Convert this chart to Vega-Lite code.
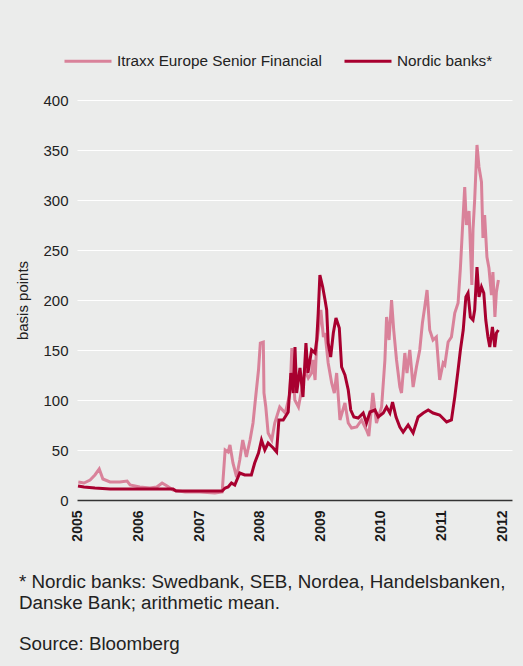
{
  "$schema": "https://vega.github.io/schema/vega-lite/v6.json",
  "width": 435,
  "height": 400,
  "autosize": "none",
  "padding": {"left": 77, "top": 100, "right": 11, "bottom": 166},
  "background": "#ebeceb",
  "config": {
    "view": {"stroke": null},
    "font": "Liberation Sans"
  },
  "title": {
    "text": ["* Nordic banks: Swedbank, SEB, Nordea, Handelsbanken,", "Danske Bank; arithmetic mean."],
    "subtitle": "Source: Bloomberg",
    "orient": "bottom",
    "anchor": "start",
    "frame": "bounds",
    "fontSize": 18.8,
    "fontWeight": "normal",
    "color": "#222222",
    "lineHeight": 20.5,
    "subtitleFontSize": 18.8,
    "subtitleColor": "#222222",
    "subtitleLineHeight": 20.5,
    "subtitlePadding": 23,
    "offset": 32,
    "dx": 3
  },
  "data": {
    "values": [
      {"date": "2005-01-03", "series": "Itraxx Europe Senior Financial", "bp": 18},
      {"date": "2005-02-06", "series": "Itraxx Europe Senior Financial", "bp": 17},
      {"date": "2005-03-15", "series": "Itraxx Europe Senior Financial", "bp": 20},
      {"date": "2005-04-13", "series": "Itraxx Europe Senior Financial", "bp": 25},
      {"date": "2005-05-09", "series": "Itraxx Europe Senior Financial", "bp": 31},
      {"date": "2005-05-31", "series": "Itraxx Europe Senior Financial", "bp": 21},
      {"date": "2005-07-13", "series": "Itraxx Europe Senior Financial", "bp": 18},
      {"date": "2005-09-10", "series": "Itraxx Europe Senior Financial", "bp": 18},
      {"date": "2005-10-24", "series": "Itraxx Europe Senior Financial", "bp": 19},
      {"date": "2005-11-11", "series": "Itraxx Europe Senior Financial", "bp": 15},
      {"date": "2006-01-08", "series": "Itraxx Europe Senior Financial", "bp": 13},
      {"date": "2006-03-11", "series": "Itraxx Europe Senior Financial", "bp": 12},
      {"date": "2006-04-21", "series": "Itraxx Europe Senior Financial", "bp": 13},
      {"date": "2006-05-23", "series": "Itraxx Europe Senior Financial", "bp": 17},
      {"date": "2006-06-22", "series": "Itraxx Europe Senior Financial", "bp": 14},
      {"date": "2006-07-28", "series": "Itraxx Europe Senior Financial", "bp": 10},
      {"date": "2006-10-09", "series": "Itraxx Europe Senior Financial", "bp": 8},
      {"date": "2007-01-05", "series": "Itraxx Europe Senior Financial", "bp": 8},
      {"date": "2007-04-06", "series": "Itraxx Europe Senior Financial", "bp": 7},
      {"date": "2007-05-20", "series": "Itraxx Europe Senior Financial", "bp": 8},
      {"date": "2007-06-07", "series": "Itraxx Europe Senior Financial", "bp": 50},
      {"date": "2007-06-25", "series": "Itraxx Europe Senior Financial", "bp": 48},
      {"date": "2007-07-06", "series": "Itraxx Europe Senior Financial", "bp": 55},
      {"date": "2007-07-24", "series": "Itraxx Europe Senior Financial", "bp": 37},
      {"date": "2007-08-15", "series": "Itraxx Europe Senior Financial", "bp": 23},
      {"date": "2007-09-03", "series": "Itraxx Europe Senior Financial", "bp": 40},
      {"date": "2007-09-21", "series": "Itraxx Europe Senior Financial", "bp": 60},
      {"date": "2007-10-13", "series": "Itraxx Europe Senior Financial", "bp": 43},
      {"date": "2007-11-04", "series": "Itraxx Europe Senior Financial", "bp": 60},
      {"date": "2007-11-22", "series": "Itraxx Europe Senior Financial", "bp": 77},
      {"date": "2007-12-06", "series": "Itraxx Europe Senior Financial", "bp": 100},
      {"date": "2007-12-25", "series": "Itraxx Europe Senior Financial", "bp": 130},
      {"date": "2008-01-05", "series": "Itraxx Europe Senior Financial", "bp": 157},
      {"date": "2008-01-23", "series": "Itraxx Europe Senior Financial", "bp": 158},
      {"date": "2008-01-27", "series": "Itraxx Europe Senior Financial", "bp": 107},
      {"date": "2008-02-07", "series": "Itraxx Europe Senior Financial", "bp": 93},
      {"date": "2008-02-21", "series": "Itraxx Europe Senior Financial", "bp": 67},
      {"date": "2008-03-14", "series": "Itraxx Europe Senior Financial", "bp": 60},
      {"date": "2008-04-01", "series": "Itraxx Europe Senior Financial", "bp": 77},
      {"date": "2008-05-01", "series": "Itraxx Europe Senior Financial", "bp": 93},
      {"date": "2008-06-03", "series": "Itraxx Europe Senior Financial", "bp": 87},
      {"date": "2008-07-02", "series": "Itraxx Europe Senior Financial", "bp": 107},
      {"date": "2008-07-13", "series": "Itraxx Europe Senior Financial", "bp": 152},
      {"date": "2008-07-31", "series": "Itraxx Europe Senior Financial", "bp": 100},
      {"date": "2008-08-22", "series": "Itraxx Europe Senior Financial", "bp": 93},
      {"date": "2008-09-10", "series": "Itraxx Europe Senior Financial", "bp": 110},
      {"date": "2008-09-30", "series": "Itraxx Europe Senior Financial", "bp": 130},
      {"date": "2008-10-20", "series": "Itraxx Europe Senior Financial", "bp": 122},
      {"date": "2008-11-09", "series": "Itraxx Europe Senior Financial", "bp": 127},
      {"date": "2008-11-17", "series": "Itraxx Europe Senior Financial", "bp": 140},
      {"date": "2008-11-30", "series": "Itraxx Europe Senior Financial", "bp": 120},
      {"date": "2008-12-10", "series": "Itraxx Europe Senior Financial", "bp": 157},
      {"date": "2009-01-04", "series": "Itraxx Europe Senior Financial", "bp": 190},
      {"date": "2009-01-19", "series": "Itraxx Europe Senior Financial", "bp": 163},
      {"date": "2009-01-29", "series": "Itraxx Europe Senior Financial", "bp": 167},
      {"date": "2009-02-17", "series": "Itraxx Europe Senior Financial", "bp": 137},
      {"date": "2009-03-10", "series": "Itraxx Europe Senior Financial", "bp": 117},
      {"date": "2009-03-26", "series": "Itraxx Europe Senior Financial", "bp": 107},
      {"date": "2009-04-09", "series": "Itraxx Europe Senior Financial", "bp": 127},
      {"date": "2009-04-29", "series": "Itraxx Europe Senior Financial", "bp": 80},
      {"date": "2009-05-29", "series": "Itraxx Europe Senior Financial", "bp": 97},
      {"date": "2009-06-18", "series": "Itraxx Europe Senior Financial", "bp": 77},
      {"date": "2009-07-08", "series": "Itraxx Europe Senior Financial", "bp": 72},
      {"date": "2009-08-08", "series": "Itraxx Europe Senior Financial", "bp": 73},
      {"date": "2009-09-06", "series": "Itraxx Europe Senior Financial", "bp": 80},
      {"date": "2009-10-06", "series": "Itraxx Europe Senior Financial", "bp": 70},
      {"date": "2009-10-20", "series": "Itraxx Europe Senior Financial", "bp": 64},
      {"date": "2009-11-13", "series": "Itraxx Europe Senior Financial", "bp": 107},
      {"date": "2009-12-05", "series": "Itraxx Europe Senior Financial", "bp": 77},
      {"date": "2010-01-05", "series": "Itraxx Europe Senior Financial", "bp": 93},
      {"date": "2010-01-25", "series": "Itraxx Europe Senior Financial", "bp": 140},
      {"date": "2010-02-04", "series": "Itraxx Europe Senior Financial", "bp": 183},
      {"date": "2010-02-19", "series": "Itraxx Europe Senior Financial", "bp": 160},
      {"date": "2010-03-06", "series": "Itraxx Europe Senior Financial", "bp": 200},
      {"date": "2010-03-19", "series": "Itraxx Europe Senior Financial", "bp": 170},
      {"date": "2010-04-05", "series": "Itraxx Europe Senior Financial", "bp": 140},
      {"date": "2010-04-25", "series": "Itraxx Europe Senior Financial", "bp": 113},
      {"date": "2010-05-05", "series": "Itraxx Europe Senior Financial", "bp": 107},
      {"date": "2010-05-25", "series": "Itraxx Europe Senior Financial", "bp": 147},
      {"date": "2010-06-07", "series": "Itraxx Europe Senior Financial", "bp": 127},
      {"date": "2010-06-24", "series": "Itraxx Europe Senior Financial", "bp": 150},
      {"date": "2010-07-14", "series": "Itraxx Europe Senior Financial", "bp": 113},
      {"date": "2010-08-03", "series": "Itraxx Europe Senior Financial", "bp": 133},
      {"date": "2010-08-23", "series": "Itraxx Europe Senior Financial", "bp": 150},
      {"date": "2010-09-08", "series": "Itraxx Europe Senior Financial", "bp": 177},
      {"date": "2010-09-22", "series": "Itraxx Europe Senior Financial", "bp": 193},
      {"date": "2010-10-06", "series": "Itraxx Europe Senior Financial", "bp": 210},
      {"date": "2010-10-22", "series": "Itraxx Europe Senior Financial", "bp": 170},
      {"date": "2010-11-11", "series": "Itraxx Europe Senior Financial", "bp": 160},
      {"date": "2010-12-01", "series": "Itraxx Europe Senior Financial", "bp": 163},
      {"date": "2010-12-21", "series": "Itraxx Europe Senior Financial", "bp": 120},
      {"date": "2011-01-11", "series": "Itraxx Europe Senior Financial", "bp": 137},
      {"date": "2011-01-21", "series": "Itraxx Europe Senior Financial", "bp": 135},
      {"date": "2011-02-10", "series": "Itraxx Europe Senior Financial", "bp": 158},
      {"date": "2011-03-02", "series": "Itraxx Europe Senior Financial", "bp": 163},
      {"date": "2011-03-22", "series": "Itraxx Europe Senior Financial", "bp": 187},
      {"date": "2011-04-11", "series": "Itraxx Europe Senior Financial", "bp": 197},
      {"date": "2011-04-25", "series": "Itraxx Europe Senior Financial", "bp": 232},
      {"date": "2011-05-07", "series": "Itraxx Europe Senior Financial", "bp": 270},
      {"date": "2011-05-21", "series": "Itraxx Europe Senior Financial", "bp": 313},
      {"date": "2011-05-31", "series": "Itraxx Europe Senior Financial", "bp": 275},
      {"date": "2011-06-16", "series": "Itraxx Europe Senior Financial", "bp": 289},
      {"date": "2011-07-03", "series": "Itraxx Europe Senior Financial", "bp": 215},
      {"date": "2011-07-10", "series": "Itraxx Europe Senior Financial", "bp": 270},
      {"date": "2011-07-20", "series": "Itraxx Europe Senior Financial", "bp": 300},
      {"date": "2011-08-03", "series": "Itraxx Europe Senior Financial", "bp": 355},
      {"date": "2011-08-15", "series": "Itraxx Europe Senior Financial", "bp": 333},
      {"date": "2011-08-30", "series": "Itraxx Europe Senior Financial", "bp": 318},
      {"date": "2011-09-08", "series": "Itraxx Europe Senior Financial", "bp": 262},
      {"date": "2011-09-18", "series": "Itraxx Europe Senior Financial", "bp": 285},
      {"date": "2011-10-02", "series": "Itraxx Europe Senior Financial", "bp": 243},
      {"date": "2011-10-14", "series": "Itraxx Europe Senior Financial", "bp": 232},
      {"date": "2011-10-29", "series": "Itraxx Europe Senior Financial", "bp": 205},
      {"date": "2011-11-07", "series": "Itraxx Europe Senior Financial", "bp": 228},
      {"date": "2011-11-19", "series": "Itraxx Europe Senior Financial", "bp": 183},
      {"date": "2011-11-28", "series": "Itraxx Europe Senior Financial", "bp": 208},
      {"date": "2011-12-10", "series": "Itraxx Europe Senior Financial", "bp": 220},
      {"date": "2005-01-01", "series": "Nordic banks*", "bp": 14},
      {"date": "2005-02-06", "series": "Nordic banks*", "bp": 13},
      {"date": "2005-04-13", "series": "Nordic banks*", "bp": 12},
      {"date": "2005-07-13", "series": "Nordic banks*", "bp": 11},
      {"date": "2006-01-08", "series": "Nordic banks*", "bp": 11},
      {"date": "2006-07-28", "series": "Nordic banks*", "bp": 11},
      {"date": "2006-08-15", "series": "Nordic banks*", "bp": 9},
      {"date": "2007-05-20", "series": "Nordic banks*", "bp": 9},
      {"date": "2007-06-07", "series": "Nordic banks*", "bp": 12},
      {"date": "2007-06-25", "series": "Nordic banks*", "bp": 13},
      {"date": "2007-07-15", "series": "Nordic banks*", "bp": 17},
      {"date": "2007-08-04", "series": "Nordic banks*", "bp": 15},
      {"date": "2007-09-03", "series": "Nordic banks*", "bp": 27},
      {"date": "2007-10-03", "series": "Nordic banks*", "bp": 25},
      {"date": "2007-11-12", "series": "Nordic banks*", "bp": 25},
      {"date": "2007-12-02", "series": "Nordic banks*", "bp": 37},
      {"date": "2007-12-25", "series": "Nordic banks*", "bp": 47},
      {"date": "2008-01-12", "series": "Nordic banks*", "bp": 60},
      {"date": "2008-02-01", "series": "Nordic banks*", "bp": 50},
      {"date": "2008-02-21", "series": "Nordic banks*", "bp": 57},
      {"date": "2008-03-23", "series": "Nordic banks*", "bp": 52},
      {"date": "2008-04-12", "series": "Nordic banks*", "bp": 48},
      {"date": "2008-04-26", "series": "Nordic banks*", "bp": 80},
      {"date": "2008-05-22", "series": "Nordic banks*", "bp": 80},
      {"date": "2008-06-21", "series": "Nordic banks*", "bp": 88},
      {"date": "2008-07-07", "series": "Nordic banks*", "bp": 127},
      {"date": "2008-07-21", "series": "Nordic banks*", "bp": 107},
      {"date": "2008-08-01", "series": "Nordic banks*", "bp": 153},
      {"date": "2008-08-11", "series": "Nordic banks*", "bp": 107},
      {"date": "2008-08-31", "series": "Nordic banks*", "bp": 132},
      {"date": "2008-09-18", "series": "Nordic banks*", "bp": 103},
      {"date": "2008-10-06", "series": "Nordic banks*", "bp": 157},
      {"date": "2008-10-18", "series": "Nordic banks*", "bp": 127},
      {"date": "2008-11-09", "series": "Nordic banks*", "bp": 150},
      {"date": "2008-11-30", "series": "Nordic banks*", "bp": 147},
      {"date": "2008-12-10", "series": "Nordic banks*", "bp": 160},
      {"date": "2008-12-19", "series": "Nordic banks*", "bp": 187},
      {"date": "2008-12-29", "series": "Nordic banks*", "bp": 225},
      {"date": "2009-01-15", "series": "Nordic banks*", "bp": 213},
      {"date": "2009-01-29", "series": "Nordic banks*", "bp": 200},
      {"date": "2009-02-08", "series": "Nordic banks*", "bp": 190},
      {"date": "2009-02-17", "series": "Nordic banks*", "bp": 157},
      {"date": "2009-03-04", "series": "Nordic banks*", "bp": 143},
      {"date": "2009-03-20", "series": "Nordic banks*", "bp": 167},
      {"date": "2009-04-05", "series": "Nordic banks*", "bp": 182},
      {"date": "2009-04-25", "series": "Nordic banks*", "bp": 172},
      {"date": "2009-05-09", "series": "Nordic banks*", "bp": 133},
      {"date": "2009-05-29", "series": "Nordic banks*", "bp": 125},
      {"date": "2009-06-18", "series": "Nordic banks*", "bp": 110},
      {"date": "2009-07-03", "series": "Nordic banks*", "bp": 90},
      {"date": "2009-07-22", "series": "Nordic banks*", "bp": 83},
      {"date": "2009-08-17", "series": "Nordic banks*", "bp": 82},
      {"date": "2009-09-16", "series": "Nordic banks*", "bp": 87},
      {"date": "2009-10-06", "series": "Nordic banks*", "bp": 77},
      {"date": "2009-10-27", "series": "Nordic banks*", "bp": 88},
      {"date": "2009-11-26", "series": "Nordic banks*", "bp": 90},
      {"date": "2009-12-16", "series": "Nordic banks*", "bp": 83},
      {"date": "2010-01-15", "series": "Nordic banks*", "bp": 87},
      {"date": "2010-02-04", "series": "Nordic banks*", "bp": 93},
      {"date": "2010-02-24", "series": "Nordic banks*", "bp": 87},
      {"date": "2010-03-12", "series": "Nordic banks*", "bp": 98},
      {"date": "2010-04-02", "series": "Nordic banks*", "bp": 83},
      {"date": "2010-04-25", "series": "Nordic banks*", "bp": 73},
      {"date": "2010-05-15", "series": "Nordic banks*", "bp": 68},
      {"date": "2010-06-14", "series": "Nordic banks*", "bp": 75},
      {"date": "2010-07-14", "series": "Nordic banks*", "bp": 67},
      {"date": "2010-08-13", "series": "Nordic banks*", "bp": 83},
      {"date": "2010-09-13", "series": "Nordic banks*", "bp": 87},
      {"date": "2010-10-13", "series": "Nordic banks*", "bp": 90},
      {"date": "2010-11-11", "series": "Nordic banks*", "bp": 87},
      {"date": "2010-12-21", "series": "Nordic banks*", "bp": 85},
      {"date": "2011-02-01", "series": "Nordic banks*", "bp": 78},
      {"date": "2011-03-02", "series": "Nordic banks*", "bp": 80},
      {"date": "2011-03-22", "series": "Nordic banks*", "bp": 103},
      {"date": "2011-04-11", "series": "Nordic banks*", "bp": 130},
      {"date": "2011-04-25", "series": "Nordic banks*", "bp": 150},
      {"date": "2011-05-12", "series": "Nordic banks*", "bp": 170},
      {"date": "2011-05-28", "series": "Nordic banks*", "bp": 203},
      {"date": "2011-06-10", "series": "Nordic banks*", "bp": 207},
      {"date": "2011-06-24", "series": "Nordic banks*", "bp": 183},
      {"date": "2011-07-10", "series": "Nordic banks*", "bp": 180},
      {"date": "2011-07-20", "series": "Nordic banks*", "bp": 190},
      {"date": "2011-08-03", "series": "Nordic banks*", "bp": 233},
      {"date": "2011-08-15", "series": "Nordic banks*", "bp": 203},
      {"date": "2011-08-30", "series": "Nordic banks*", "bp": 213},
      {"date": "2011-09-13", "series": "Nordic banks*", "bp": 207},
      {"date": "2011-09-25", "series": "Nordic banks*", "bp": 180},
      {"date": "2011-10-08", "series": "Nordic banks*", "bp": 163},
      {"date": "2011-10-19", "series": "Nordic banks*", "bp": 153},
      {"date": "2011-11-04", "series": "Nordic banks*", "bp": 173},
      {"date": "2011-11-18", "series": "Nordic banks*", "bp": 153},
      {"date": "2011-11-28", "series": "Nordic banks*", "bp": 167},
      {"date": "2011-12-10", "series": "Nordic banks*", "bp": 170}
    ]
  },
  "mark": {"type": "line", "strokeWidth": 3},
  "encoding": {
    "x": {
      "field": "date",
      "type": "temporal",
      "scale": {"domain": ["2004-12-26", "2012-03-01"]},
      "axis": {
        "title": null,
        "values": [{"year": 2005}, {"year": 2006}, {"year": 2007}, {"year": 2008}, {"year": 2009}, {"year": 2010}, {"year": 2011}, {"year": 2012}],
        "format": "%Y",
        "labelAngle": -90,
        "labelFontSize": 14,
        "labelFontWeight": "bold",
        "labelColor": "#1a1a1a",
        "labelPadding": 10,
        "ticks": false,
        "grid": false,
        "domainColor": "#333333",
        "domainWidth": 1.5,
        "labelFlush": false,
        "labelOverlap": false
      }
    },
    "y": {
      "field": "bp",
      "type": "quantitative",
      "scale": {"domain": [0, 400]},
      "axis": {
        "title": "basis points",
        "titleFontSize": 15,
        "titleFontWeight": "normal",
        "titleColor": "#222222",
        "titlePadding": 12,
        "values": [0, 50, 100, 150, 200, 250, 300, 350, 400],
        "labelFontSize": 15,
        "labelColor": "#222222",
        "labelPadding": 9,
        "ticks": false,
        "domain": false,
        "grid": true,
        "gridColor": "#ffffff",
        "gridWidth": 1.2
      }
    },
    "color": {
      "field": "series",
      "type": "nominal",
      "scale": {"domain": ["Itraxx Europe Senior Financial", "Nordic banks*"], "range": ["#d9829a", "#a8002f"]},
      "legend": {
        "title": null,
        "orient": "none",
        "direction": "horizontal",
        "legendX": -14,
        "legendY": -64,
        "padding": 0,
        "symbolType": "stroke",
        "symbolSize": 2209,
        "symbolStrokeWidth": 3,
        "labelFontSize": 15.3,
        "labelColor": "#222222",
        "labelOffset": 4,
        "columnPadding": 16,
        "labelLimit": 400
      }
    }
  }
}
